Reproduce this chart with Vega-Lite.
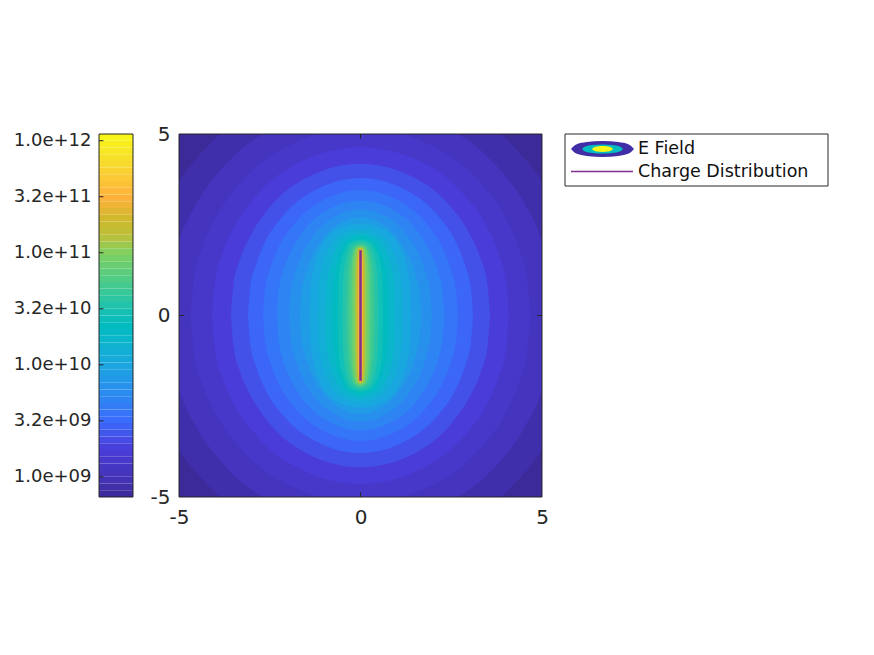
{"$schema":"https://vega.github.io/schema/vega-lite/v6.json","padding":{"left":13,"top":124,"right":0,"bottom":0},"background":"white","spacing":0,"bounds":"flush","config":{"view":{"stroke":null},"font":"DejaVu Sans","concat":{"spacing":0}},"hconcat":[
{"width":34,"height":363,"spacing":46,"data":{"values":[{"lo":8.82,"hi":8.88,"c":8.85},{"lo":8.88,"hi":8.94,"c":8.91},{"lo":8.94,"hi":9,"c":8.97},{"lo":9,"hi":9.06,"c":9.03},{"lo":9.06,"hi":9.12,"c":9.09},{"lo":9.12,"hi":9.18,"c":9.15},{"lo":9.18,"hi":9.24,"c":9.21},{"lo":9.24,"hi":9.3,"c":9.27},{"lo":9.3,"hi":9.36,"c":9.33},{"lo":9.36,"hi":9.42,"c":9.39},{"lo":9.42,"hi":9.48,"c":9.45},{"lo":9.48,"hi":9.54,"c":9.51},{"lo":9.54,"hi":9.6,"c":9.57},{"lo":9.6,"hi":9.66,"c":9.63},{"lo":9.66,"hi":9.72,"c":9.69},{"lo":9.72,"hi":9.78,"c":9.75},{"lo":9.78,"hi":9.84,"c":9.81},{"lo":9.84,"hi":9.9,"c":9.87},{"lo":9.9,"hi":9.96,"c":9.93},{"lo":9.96,"hi":10.02,"c":9.99},{"lo":10.02,"hi":10.08,"c":10.05},{"lo":10.08,"hi":10.14,"c":10.11},{"lo":10.14,"hi":10.2,"c":10.17},{"lo":10.2,"hi":10.26,"c":10.23},{"lo":10.26,"hi":10.32,"c":10.29},{"lo":10.32,"hi":10.38,"c":10.35},{"lo":10.38,"hi":10.44,"c":10.41},{"lo":10.44,"hi":10.5,"c":10.47},{"lo":10.5,"hi":10.56,"c":10.53},{"lo":10.56,"hi":10.62,"c":10.59},{"lo":10.62,"hi":10.68,"c":10.65},{"lo":10.68,"hi":10.74,"c":10.71},{"lo":10.74,"hi":10.8,"c":10.77},{"lo":10.8,"hi":10.86,"c":10.83},{"lo":10.86,"hi":10.92,"c":10.89},{"lo":10.92,"hi":10.98,"c":10.95},{"lo":10.98,"hi":11.04,"c":11.01},{"lo":11.04,"hi":11.1,"c":11.07},{"lo":11.1,"hi":11.16,"c":11.13},{"lo":11.16,"hi":11.22,"c":11.19},{"lo":11.22,"hi":11.28,"c":11.25},{"lo":11.28,"hi":11.34,"c":11.31},{"lo":11.34,"hi":11.4,"c":11.37},{"lo":11.4,"hi":11.46,"c":11.43},{"lo":11.46,"hi":11.52,"c":11.49},{"lo":11.52,"hi":11.58,"c":11.55},{"lo":11.58,"hi":11.64,"c":11.61},{"lo":11.64,"hi":11.7,"c":11.67},{"lo":11.7,"hi":11.76,"c":11.73},{"lo":11.76,"hi":11.82,"c":11.79},{"lo":11.82,"hi":11.88,"c":11.85},{"lo":11.88,"hi":11.94,"c":11.91},{"lo":11.94,"hi":12,"c":11.97},{"lo":12,"hi":12.06,"c":12.03}]},
"layer":[
{"mark":{"type":"rect","stroke":null},"encoding":{
"y":{"field":"lo","type":"quantitative","scale":{"domain":[8.82,12.06],"nice":false,"zero":false},"axis":{"title":null,"grid":false,"domain":false,"ticks":false,"values":[9,9.5,10,10.5,11,11.5,12],"labelFontSize":18,"labelColor":"#262626","labelPadding":8,"labelFlush":false,"labelExpr":"replace(replace(format(pow(10,datum.value),'.1e'),'e+9','e+09'),'e+8','e+08')"}},
"y2":{"field":"hi"},
"x":{"datum":0,"type":"quantitative","scale":{"domain":[0,1],"nice":false},"axis":null},
"x2":{"datum":1},
"color":{"field":"c","type":"quantitative","legend":null,"scale":{"domain":[8.82,9,9.25,9.5,9.75,10,10.25,10.35,10.5,10.75,11,11.15,11.3,11.5,11.75,12.06],"range":["#3b2a98","#4433b8","#4a3cd8","#3a6cfc","#2a8cf0","#1aa6e0","#08b8c8","#00bcc0","#1cc2b0","#4ccc88","#80d060","#bcc038","#d0b82c","#ffb23c","#f8d430","#f8f818"],"interpolate":"rgb"}}}},
{"data":{"values":[{"y":9},{"y":9.5},{"y":10},{"y":10.5},{"y":11},{"y":11.5},{"y":12}]},"mark":{"type":"rule","color":"#262626","strokeWidth":1},"encoding":{"y":{"field":"y","type":"quantitative"},"x":{"datum":0,"type":"quantitative"},"x2":{"datum":0.13}}},
{"data":{"values":[{"a":0,"b":1,"l":8.82,"h":12.06}]},"mark":{"type":"rect","fill":null,"stroke":"#262626","strokeWidth":1},"encoding":{"x":{"field":"a","type":"quantitative"},"x2":{"field":"b"},"y":{"field":"l","type":"quantitative"},"y2":{"field":"h"}}}
]},
{"width":46,"height":363,"mark":{"type":"rule","opacity":0},"data":{"values":[]},"encoding":{}},
{"width":363,"height":363,"layer":[
{"data":{"values":[
{"c":8.82,"x":-5,"y":5,"y2":-5},{"c":8.82,"x":5,"y":5,"y2":-5},
{"c":8.928,"x":-6.08,"y":0,"y2":0},{"c":8.928,"x":-5.96,"y":1.29,"y2":-1.29},{"c":8.928,"x":-5.65,"y":2.38,"y2":-2.38},{"c":8.928,"x":-5.17,"y":3.41,"y2":-3.41},{"c":8.928,"x":-4.26,"y":4.62,"y2":-4.62},{"c":8.928,"x":-3.04,"y":5.6,"y2":-5.6},{"c":8.928,"x":0,"y":6.47,"y2":-6.47},{"c":8.928,"x":3.04,"y":5.6,"y2":-5.6},{"c":8.928,"x":4.26,"y":4.62,"y2":-4.62},{"c":8.928,"x":5.17,"y":3.41,"y2":-3.41},{"c":8.928,"x":5.65,"y":2.38,"y2":-2.38},{"c":8.928,"x":5.96,"y":1.29,"y2":-1.29},{"c":8.928,"x":6.08,"y":0,"y2":0},
{"c":9.036,"x":-5.34,"y":0,"y2":0},{"c":9.036,"x":-5.23,"y":1.15,"y2":-1.15},{"c":9.036,"x":-4.97,"y":2.13,"y2":-2.13},{"c":9.036,"x":-4.54,"y":3.05,"y2":-3.05},{"c":9.036,"x":-3.74,"y":4.13,"y2":-4.13},{"c":9.036,"x":-2.67,"y":5.01,"y2":-5.01},{"c":9.036,"x":0,"y":5.78,"y2":-5.78},{"c":9.036,"x":2.67,"y":5.01,"y2":-5.01},{"c":9.036,"x":3.74,"y":4.13,"y2":-4.13},{"c":9.036,"x":4.54,"y":3.05,"y2":-3.05},{"c":9.036,"x":4.97,"y":2.13,"y2":-2.13},{"c":9.036,"x":5.23,"y":1.15,"y2":-1.15},{"c":9.036,"x":5.34,"y":0,"y2":0},
{"c":9.144,"x":-4.68,"y":0,"y2":0},{"c":9.144,"x":-4.59,"y":1.03,"y2":-1.03},{"c":9.144,"x":-4.35,"y":1.9,"y2":-1.9},{"c":9.144,"x":-3.98,"y":2.72,"y2":-2.72},{"c":9.144,"x":-3.28,"y":3.69,"y2":-3.69},{"c":9.144,"x":-2.34,"y":4.48,"y2":-4.48},{"c":9.144,"x":0,"y":5.17,"y2":-5.17},{"c":9.144,"x":2.34,"y":4.48,"y2":-4.48},{"c":9.144,"x":3.28,"y":3.69,"y2":-3.69},{"c":9.144,"x":3.98,"y":2.72,"y2":-2.72},{"c":9.144,"x":4.35,"y":1.9,"y2":-1.9},{"c":9.144,"x":4.59,"y":1.03,"y2":-1.03},{"c":9.144,"x":4.68,"y":0,"y2":0},
{"c":9.252,"x":-4.09,"y":0,"y2":0},{"c":9.252,"x":-4.01,"y":0.92,"y2":-0.92},{"c":9.252,"x":-3.8,"y":1.71,"y2":-1.71},{"c":9.252,"x":-3.48,"y":2.45,"y2":-2.45},{"c":9.252,"x":-2.86,"y":3.31,"y2":-3.31},{"c":9.252,"x":-2.05,"y":4.02,"y2":-4.02},{"c":9.252,"x":0,"y":4.64,"y2":-4.64},{"c":9.252,"x":2.05,"y":4.02,"y2":-4.02},{"c":9.252,"x":2.86,"y":3.31,"y2":-3.31},{"c":9.252,"x":3.48,"y":2.45,"y2":-2.45},{"c":9.252,"x":3.8,"y":1.71,"y2":-1.71},{"c":9.252,"x":4.01,"y":0.92,"y2":-0.92},{"c":9.252,"x":4.09,"y":0,"y2":0},
{"c":9.361,"x":-3.57,"y":0,"y2":0},{"c":9.361,"x":-3.5,"y":0.83,"y2":-0.83},{"c":9.361,"x":-3.32,"y":1.54,"y2":-1.54},{"c":9.361,"x":-3.03,"y":2.2,"y2":-2.2},{"c":9.361,"x":-2.5,"y":2.98,"y2":-2.98},{"c":9.361,"x":-1.79,"y":3.62,"y2":-3.62},{"c":9.361,"x":0,"y":4.18,"y2":-4.18},{"c":9.361,"x":1.79,"y":3.62,"y2":-3.62},{"c":9.361,"x":2.5,"y":2.98,"y2":-2.98},{"c":9.361,"x":3.03,"y":2.2,"y2":-2.2},{"c":9.361,"x":3.32,"y":1.54,"y2":-1.54},{"c":9.361,"x":3.5,"y":0.83,"y2":-0.83},{"c":9.361,"x":3.57,"y":0,"y2":0},
{"c":9.469,"x":-3.1,"y":0,"y2":0},{"c":9.469,"x":-3.04,"y":0.75,"y2":-0.75},{"c":9.469,"x":-2.88,"y":1.39,"y2":-1.39},{"c":9.469,"x":-2.64,"y":2,"y2":-2},{"c":9.469,"x":-2.17,"y":2.71,"y2":-2.71},{"c":9.469,"x":-1.55,"y":3.28,"y2":-3.28},{"c":9.469,"x":0,"y":3.79,"y2":-3.79},{"c":9.469,"x":1.55,"y":3.28,"y2":-3.28},{"c":9.469,"x":2.17,"y":2.71,"y2":-2.71},{"c":9.469,"x":2.64,"y":2,"y2":-2},{"c":9.469,"x":2.88,"y":1.39,"y2":-1.39},{"c":9.469,"x":3.04,"y":0.75,"y2":-0.75},{"c":9.469,"x":3.1,"y":0,"y2":0},
{"c":9.577,"x":-2.68,"y":0,"y2":0},{"c":9.577,"x":-2.63,"y":0.69,"y2":-0.69},{"c":9.577,"x":-2.49,"y":1.27,"y2":-1.27},{"c":9.577,"x":-2.28,"y":1.82,"y2":-1.82},{"c":9.577,"x":-1.88,"y":2.46,"y2":-2.46},{"c":9.577,"x":-1.34,"y":2.99,"y2":-2.99},{"c":9.577,"x":0,"y":3.45,"y2":-3.45},{"c":9.577,"x":1.34,"y":2.99,"y2":-2.99},{"c":9.577,"x":1.88,"y":2.46,"y2":-2.46},{"c":9.577,"x":2.28,"y":1.82,"y2":-1.82},{"c":9.577,"x":2.49,"y":1.27,"y2":-1.27},{"c":9.577,"x":2.63,"y":0.69,"y2":-0.69},{"c":9.577,"x":2.68,"y":0,"y2":0},
{"c":9.685,"x":-2.31,"y":0,"y2":0},{"c":9.685,"x":-2.26,"y":0.63,"y2":-0.63},{"c":9.685,"x":-2.15,"y":1.16,"y2":-1.16},{"c":9.685,"x":-1.96,"y":1.67,"y2":-1.67},{"c":9.685,"x":-1.62,"y":2.26,"y2":-2.26},{"c":9.685,"x":-1.16,"y":2.74,"y2":-2.74},{"c":9.685,"x":0,"y":3.16,"y2":-3.16},{"c":9.685,"x":1.16,"y":2.74,"y2":-2.74},{"c":9.685,"x":1.62,"y":2.26,"y2":-2.26},{"c":9.685,"x":1.96,"y":1.67,"y2":-1.67},{"c":9.685,"x":2.15,"y":1.16,"y2":-1.16},{"c":9.685,"x":2.26,"y":0.63,"y2":-0.63},{"c":9.685,"x":2.31,"y":0,"y2":0},
{"c":9.793,"x":-1.97,"y":0,"y2":0},{"c":9.793,"x":-1.93,"y":0.58,"y2":-0.58},{"c":9.793,"x":-1.83,"y":1.07,"y2":-1.07},{"c":9.793,"x":-1.67,"y":1.54,"y2":-1.54},{"c":9.793,"x":-1.38,"y":2.08,"y2":-2.08},{"c":9.793,"x":-0.99,"y":2.53,"y2":-2.53},{"c":9.793,"x":0,"y":2.92,"y2":-2.92},{"c":9.793,"x":0.99,"y":2.53,"y2":-2.53},{"c":9.793,"x":1.38,"y":2.08,"y2":-2.08},{"c":9.793,"x":1.67,"y":1.54,"y2":-1.54},{"c":9.793,"x":1.83,"y":1.07,"y2":-1.07},{"c":9.793,"x":1.93,"y":0.58,"y2":-0.58},{"c":9.793,"x":1.97,"y":0,"y2":0},
{"c":9.901,"x":-1.67,"y":0,"y2":0},{"c":9.901,"x":-1.64,"y":0.54,"y2":-0.54},{"c":9.901,"x":-1.55,"y":1,"y2":-1},{"c":9.901,"x":-1.42,"y":1.43,"y2":-1.43},{"c":9.901,"x":-1.17,"y":1.93,"y2":-1.93},{"c":9.901,"x":-0.84,"y":2.35,"y2":-2.35},{"c":9.901,"x":0,"y":2.71,"y2":-2.71},{"c":9.901,"x":0.84,"y":2.35,"y2":-2.35},{"c":9.901,"x":1.17,"y":1.93,"y2":-1.93},{"c":9.901,"x":1.42,"y":1.43,"y2":-1.43},{"c":9.901,"x":1.55,"y":1,"y2":-1},{"c":9.901,"x":1.64,"y":0.54,"y2":-0.54},{"c":9.901,"x":1.67,"y":0,"y2":0},
{"c":10.009,"x":-1.4,"y":0,"y2":0},{"c":10.009,"x":-1.37,"y":0.76,"y2":-0.76},{"c":10.009,"x":-1.3,"y":1.24,"y2":-1.24},{"c":10.009,"x":-1.19,"y":1.64,"y2":-1.64},{"c":10.009,"x":-0.98,"y":2.06,"y2":-2.06},{"c":10.009,"x":-0.7,"y":2.35,"y2":-2.35},{"c":10.009,"x":0,"y":2.54,"y2":-2.54},{"c":10.009,"x":0.7,"y":2.35,"y2":-2.35},{"c":10.009,"x":0.98,"y":2.06,"y2":-2.06},{"c":10.009,"x":1.19,"y":1.64,"y2":-1.64},{"c":10.009,"x":1.3,"y":1.24,"y2":-1.24},{"c":10.009,"x":1.37,"y":0.76,"y2":-0.76},{"c":10.009,"x":1.4,"y":0,"y2":0},
{"c":10.117,"x":-1.17,"y":0,"y2":0},{"c":10.117,"x":-1.15,"y":0.72,"y2":-0.72},{"c":10.117,"x":-1.09,"y":1.17,"y2":-1.17},{"c":10.117,"x":-0.99,"y":1.55,"y2":-1.55},{"c":10.117,"x":-0.82,"y":1.94,"y2":-1.94},{"c":10.117,"x":-0.59,"y":2.22,"y2":-2.22},{"c":10.117,"x":0,"y":2.4,"y2":-2.4},{"c":10.117,"x":0.59,"y":2.22,"y2":-2.22},{"c":10.117,"x":0.82,"y":1.94,"y2":-1.94},{"c":10.117,"x":0.99,"y":1.55,"y2":-1.55},{"c":10.117,"x":1.09,"y":1.17,"y2":-1.17},{"c":10.117,"x":1.15,"y":0.72,"y2":-0.72},{"c":10.117,"x":1.17,"y":0,"y2":0},
{"c":10.225,"x":-0.957,"y":0,"y2":0},{"c":10.225,"x":-0.94,"y":0.68,"y2":-0.68},{"c":10.225,"x":-0.89,"y":1.11,"y2":-1.11},{"c":10.225,"x":-0.81,"y":1.47,"y2":-1.47},{"c":10.225,"x":-0.67,"y":1.85,"y2":-1.85},{"c":10.225,"x":-0.48,"y":2.11,"y2":-2.11},{"c":10.225,"x":0,"y":2.28,"y2":-2.28},{"c":10.225,"x":0.48,"y":2.11,"y2":-2.11},{"c":10.225,"x":0.67,"y":1.85,"y2":-1.85},{"c":10.225,"x":0.81,"y":1.47,"y2":-1.47},{"c":10.225,"x":0.89,"y":1.11,"y2":-1.11},{"c":10.225,"x":0.94,"y":0.68,"y2":-0.68},{"c":10.225,"x":0.957,"y":0,"y2":0},
{"c":10.333,"x":-0.775,"y":0,"y2":0},{"c":10.333,"x":-0.76,"y":0.65,"y2":-0.65},{"c":10.333,"x":-0.72,"y":1.06,"y2":-1.06},{"c":10.333,"x":-0.66,"y":1.41,"y2":-1.41},{"c":10.333,"x":-0.54,"y":1.77,"y2":-1.77},{"c":10.333,"x":-0.39,"y":2.02,"y2":-2.02},{"c":10.333,"x":0,"y":2.18,"y2":-2.18},{"c":10.333,"x":0.39,"y":2.02,"y2":-2.02},{"c":10.333,"x":0.54,"y":1.77,"y2":-1.77},{"c":10.333,"x":0.66,"y":1.41,"y2":-1.41},{"c":10.333,"x":0.72,"y":1.06,"y2":-1.06},{"c":10.333,"x":0.76,"y":0.65,"y2":-0.65},{"c":10.333,"x":0.775,"y":0,"y2":0},
{"c":10.442,"x":-0.62,"y":0,"y2":0},{"c":10.442,"x":-0.61,"y":0.82,"y2":-0.82},{"c":10.442,"x":-0.58,"y":1.22,"y2":-1.22},{"c":10.442,"x":-0.53,"y":1.53,"y2":-1.53},{"c":10.442,"x":-0.43,"y":1.82,"y2":-1.82},{"c":10.442,"x":-0.31,"y":2.01,"y2":-2.01},{"c":10.442,"x":0,"y":2.1,"y2":-2.1},{"c":10.442,"x":0.31,"y":2.01,"y2":-2.01},{"c":10.442,"x":0.43,"y":1.82,"y2":-1.82},{"c":10.442,"x":0.53,"y":1.53,"y2":-1.53},{"c":10.442,"x":0.58,"y":1.22,"y2":-1.22},{"c":10.442,"x":0.61,"y":0.82,"y2":-0.82},{"c":10.442,"x":0.62,"y":0,"y2":0},
{"c":10.55,"x":-0.495,"y":0,"y2":0},{"c":10.55,"x":-0.485,"y":0.79,"y2":-0.79},{"c":10.55,"x":-0.46,"y":1.19,"y2":-1.19},{"c":10.55,"x":-0.42,"y":1.49,"y2":-1.49},{"c":10.55,"x":-0.35,"y":1.77,"y2":-1.77},{"c":10.55,"x":-0.25,"y":1.95,"y2":-1.95},{"c":10.55,"x":0,"y":2.04,"y2":-2.04},{"c":10.55,"x":0.25,"y":1.95,"y2":-1.95},{"c":10.55,"x":0.35,"y":1.77,"y2":-1.77},{"c":10.55,"x":0.42,"y":1.49,"y2":-1.49},{"c":10.55,"x":0.46,"y":1.19,"y2":-1.19},{"c":10.55,"x":0.485,"y":0.79,"y2":-0.79},{"c":10.55,"x":0.495,"y":0,"y2":0},
{"c":10.658,"x":-0.39,"y":0,"y2":0},{"c":10.658,"x":-0.38,"y":0.77,"y2":-0.77},{"c":10.658,"x":-0.36,"y":1.16,"y2":-1.16},{"c":10.658,"x":-0.33,"y":1.45,"y2":-1.45},{"c":10.658,"x":-0.27,"y":1.73,"y2":-1.73},{"c":10.658,"x":-0.195,"y":1.9,"y2":-1.9},{"c":10.658,"x":0,"y":1.99,"y2":-1.99},{"c":10.658,"x":0.195,"y":1.9,"y2":-1.9},{"c":10.658,"x":0.27,"y":1.73,"y2":-1.73},{"c":10.658,"x":0.33,"y":1.45,"y2":-1.45},{"c":10.658,"x":0.36,"y":1.16,"y2":-1.16},{"c":10.658,"x":0.38,"y":0.77,"y2":-0.77},{"c":10.658,"x":0.39,"y":0,"y2":0},
{"c":10.766,"x":-0.308,"y":0,"y2":0},{"c":10.766,"x":-0.3,"y":0.76,"y2":-0.76},{"c":10.766,"x":-0.29,"y":1.13,"y2":-1.13},{"c":10.766,"x":-0.26,"y":1.42,"y2":-1.42},{"c":10.766,"x":-0.22,"y":1.69,"y2":-1.69},{"c":10.766,"x":-0.15,"y":1.86,"y2":-1.86},{"c":10.766,"x":0,"y":1.95,"y2":-1.95},{"c":10.766,"x":0.15,"y":1.86,"y2":-1.86},{"c":10.766,"x":0.22,"y":1.69,"y2":-1.69},{"c":10.766,"x":0.26,"y":1.42,"y2":-1.42},{"c":10.766,"x":0.29,"y":1.13,"y2":-1.13},{"c":10.766,"x":0.3,"y":0.76,"y2":-0.76},{"c":10.766,"x":0.308,"y":0,"y2":0},
{"c":10.874,"x":-0.241,"y":0,"y2":0},{"c":10.874,"x":-0.236,"y":1.01,"y2":-1.01},{"c":10.874,"x":-0.205,"y":1.6,"y2":-1.6},{"c":10.874,"x":-0.12,"y":1.89,"y2":-1.89},{"c":10.874,"x":0,"y":1.92,"y2":-1.92},{"c":10.874,"x":0.12,"y":1.89,"y2":-1.89},{"c":10.874,"x":0.205,"y":1.6,"y2":-1.6},{"c":10.874,"x":0.236,"y":1.01,"y2":-1.01},{"c":10.874,"x":0.241,"y":0,"y2":0},
{"c":10.982,"x":-0.189,"y":0,"y2":0},{"c":10.982,"x":-0.185,"y":1,"y2":-1},{"c":10.982,"x":-0.16,"y":1.57,"y2":-1.57},{"c":10.982,"x":-0.095,"y":1.86,"y2":-1.86},{"c":10.982,"x":0,"y":1.89,"y2":-1.89},{"c":10.982,"x":0.095,"y":1.86,"y2":-1.86},{"c":10.982,"x":0.16,"y":1.57,"y2":-1.57},{"c":10.982,"x":0.185,"y":1,"y2":-1},{"c":10.982,"x":0.189,"y":0,"y2":0},
{"c":11.09,"x":-0.148,"y":0,"y2":0},{"c":11.09,"x":-0.145,"y":0.99,"y2":-0.99},{"c":11.09,"x":-0.126,"y":1.55,"y2":-1.55},{"c":11.09,"x":-0.074,"y":1.84,"y2":-1.84},{"c":11.09,"x":0,"y":1.87,"y2":-1.87},{"c":11.09,"x":0.074,"y":1.84,"y2":-1.84},{"c":11.09,"x":0.126,"y":1.55,"y2":-1.55},{"c":11.09,"x":0.145,"y":0.99,"y2":-0.99},{"c":11.09,"x":0.148,"y":0,"y2":0},
{"c":11.198,"x":-0.115,"y":0,"y2":0},{"c":11.198,"x":-0.113,"y":0.98,"y2":-0.98},{"c":11.198,"x":-0.098,"y":1.54,"y2":-1.54},{"c":11.198,"x":-0.058,"y":1.83,"y2":-1.83},{"c":11.198,"x":0,"y":1.857,"y2":-1.857},{"c":11.198,"x":0.058,"y":1.83,"y2":-1.83},{"c":11.198,"x":0.098,"y":1.54,"y2":-1.54},{"c":11.198,"x":0.113,"y":0.98,"y2":-0.98},{"c":11.198,"x":0.115,"y":0,"y2":0},
{"c":11.306,"x":-0.09,"y":0,"y2":0},{"c":11.306,"x":-0.088,"y":0.97,"y2":-0.97},{"c":11.306,"x":-0.077,"y":1.53,"y2":-1.53},{"c":11.306,"x":-0.045,"y":1.82,"y2":-1.82},{"c":11.306,"x":0,"y":1.845,"y2":-1.845},{"c":11.306,"x":0.045,"y":1.82,"y2":-1.82},{"c":11.306,"x":0.077,"y":1.53,"y2":-1.53},{"c":11.306,"x":0.088,"y":0.97,"y2":-0.97},{"c":11.306,"x":0.09,"y":0,"y2":0},
{"c":11.414,"x":-0.07,"y":0,"y2":0},{"c":11.414,"x":-0.069,"y":0.97,"y2":-0.97},{"c":11.414,"x":-0.06,"y":1.52,"y2":-1.52},{"c":11.414,"x":-0.035,"y":1.81,"y2":-1.81},{"c":11.414,"x":0,"y":1.835,"y2":-1.835},{"c":11.414,"x":0.035,"y":1.81,"y2":-1.81},{"c":11.414,"x":0.06,"y":1.52,"y2":-1.52},{"c":11.414,"x":0.069,"y":0.97,"y2":-0.97},{"c":11.414,"x":0.07,"y":0,"y2":0},
{"c":11.523,"x":-0.054,"y":0,"y2":0},{"c":11.523,"x":-0.053,"y":0.96,"y2":-0.96},{"c":11.523,"x":-0.046,"y":1.52,"y2":-1.52},{"c":11.523,"x":-0.027,"y":1.8,"y2":-1.8},{"c":11.523,"x":0,"y":1.826,"y2":-1.826},{"c":11.523,"x":0.027,"y":1.8,"y2":-1.8},{"c":11.523,"x":0.046,"y":1.52,"y2":-1.52},{"c":11.523,"x":0.053,"y":0.96,"y2":-0.96},{"c":11.523,"x":0.054,"y":0,"y2":0}
]},"mark":{"type":"area","clip":true,"interpolate":"monotone","stroke":null},"encoding":{
"x":{"field":"x","type":"quantitative","scale":{"domain":[-5,5],"nice":false,"zero":false},"axis":{"title":null,"grid":false,"domain":false,"ticks":false,"values":[-5,0,5],"labelFontSize":20,"labelColor":"#262626","labelPadding":10,"labelFlush":false,"labelAngle":0,"labelExpr":"''+datum.value"}},
"y":{"field":"y","type":"quantitative","scale":{"domain":[-5,5],"nice":false,"zero":false},"axis":{"title":null,"grid":false,"domain":false,"ticks":false,"values":[-5,0,5],"labelFontSize":20,"labelColor":"#262626","labelPadding":9,"labelFlush":false,"labelExpr":"''+datum.value"}},
"y2":{"field":"y2"},
"detail":{"field":"c"},
"color":{"field":"c","type":"quantitative","legend":null}}},
{"data":{"values":[{"x":0,"y":1.8,"y2":-1.8}]},"mark":{"type":"rule","color":"#7e2f8e","strokeWidth":2.5},"encoding":{"x":{"field":"x","type":"quantitative"},"y":{"field":"y","type":"quantitative"},"y2":{"field":"y2"}}},
{"data":{"values":[{"x":0,"x2":0,"y":-5,"y2":-4.87},{"x":0,"x2":0,"y":5,"y2":4.87},{"x":-5,"x2":-4.87,"y":0,"y2":0},{"x":5,"x2":4.87,"y":0,"y2":0}]},"mark":{"type":"rule","color":"#262626","strokeWidth":1},"encoding":{"x":{"field":"x","type":"quantitative"},"x2":{"field":"x2"},"y":{"field":"y","type":"quantitative"},"y2":{"field":"y2"}}},
{"data":{"values":[{"a":-5,"b":5,"l":-5,"h":5}]},"mark":{"type":"rect","fill":null,"stroke":"#262626","strokeWidth":1},"encoding":{"x":{"field":"a","type":"quantitative"},"x2":{"field":"b"},"y":{"field":"l","type":"quantitative"},"y2":{"field":"h"}}}
]},
{"width":23,"height":363,"mark":{"type":"rule","opacity":0},"data":{"values":[]},"encoding":{}},
{"width":263,"height":52,"layer":[
{"data":{"values":[
{"c":8.9,"x":6,"y":15,"y2":15},{"c":8.9,"x":10.7,"y":10.8,"y2":19.2},{"c":8.9,"x":21.75,"y":8.1,"y2":21.9},{"c":8.9,"x":37.5,"y":7,"y2":23},{"c":8.9,"x":53.25,"y":8.1,"y2":21.9},{"c":8.9,"x":64.3,"y":10.8,"y2":19.2},{"c":8.9,"x":69,"y":15,"y2":15},
{"c":10.35,"x":17,"y":15,"y2":15},{"c":10.35,"x":20,"y":12.6,"y2":17.4},{"c":10.35,"x":27.25,"y":11.1,"y2":18.9},{"c":10.35,"x":37.5,"y":10.5,"y2":19.5},{"c":10.35,"x":47.75,"y":11.1,"y2":18.9},{"c":10.35,"x":55,"y":12.6,"y2":17.4},{"c":10.35,"x":58,"y":15,"y2":15},
{"c":12.06,"x":27,"y":15,"y2":15},{"c":12.06,"x":28.6,"y":13.4,"y2":16.6},{"c":12.06,"x":32.25,"y":12.4,"y2":17.6},{"c":12.06,"x":37.5,"y":12,"y2":18},{"c":12.06,"x":42.75,"y":12.4,"y2":17.6},{"c":12.06,"x":46.4,"y":13.4,"y2":16.6},{"c":12.06,"x":48,"y":15,"y2":15}
]},"mark":{"type":"area","interpolate":"monotone","stroke":null},"encoding":{
"x":{"field":"x","type":"quantitative","scale":{"domain":[0,263],"nice":false,"zero":false},"axis":null},
"y":{"field":"y","type":"quantitative","scale":{"domain":[52,0],"nice":false,"zero":false},"axis":null},
"y2":{"field":"y2"},"detail":{"field":"c"},"color":{"field":"c","type":"quantitative","legend":null}}},
{"data":{"values":[{"x":6,"x2":68,"y":37.5}]},"mark":{"type":"rule","color":"#7e2f8e","strokeWidth":1.5},"encoding":{"x":{"field":"x","type":"quantitative"},"x2":{"field":"x2"},"y":{"field":"y","type":"quantitative"}}},
{"data":{"values":[{"x":73,"y":15,"t":"E Field"},{"x":73,"y":38,"t":"Charge Distribution"}]},"mark":{"type":"text","align":"left","baseline":"middle","fontSize":17.5,"color":"#111111","font":"DejaVu Sans"},"encoding":{"x":{"field":"x","type":"quantitative"},"y":{"field":"y","type":"quantitative"},"text":{"field":"t"}}},
{"data":{"values":[{"a":0,"b":263,"l":0,"h":52}]},"mark":{"type":"rect","fill":null,"stroke":"#262626","strokeWidth":1},"encoding":{"x":{"field":"a","type":"quantitative"},"x2":{"field":"b"},"y":{"field":"l","type":"quantitative"},"y2":{"field":"h"}}}
]}
]}
